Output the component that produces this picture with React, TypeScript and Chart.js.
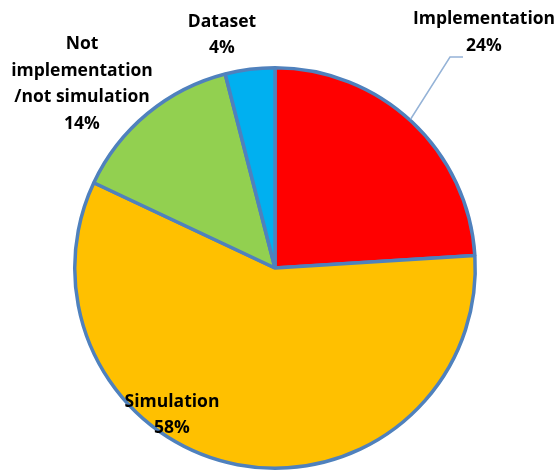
import React, { useEffect, useRef } from "react";
import { Chart, registerables } from "chart.js";

Chart.register(...registerables);

const categories = ["Implementation", "Simulation", "Not implementation\n/not simulation", "Dataset"];
const labelLines = [["Implementation"], ["Simulation"], ["Not", "implementation", "/not simulation"], ["Dataset"]];
const shares = [24, 58, 14, 4];
const sliceColors = ["#FF0000", "#FFC000", "#92D050", "#00B0F0"];

// label block centre, as offsets from the pie centre (px)
const labelOffsets: [number, number][] = [
  [209, -235.5],
  [-103, 147],
  [-193, -184],
  [-53, -233],
];

const FONT = "bold 17.5px 'Open Sans', Lato, sans-serif";
const LINE_H = 26.5;

const labelPlugin = {
  id: "sliceLabels",
  afterDraw(chart: any) {
    const ctx = chart.ctx;
    const meta = chart.getDatasetMeta(0);
    const arcs = meta.data;
    if (!arcs.length) return;
    const cx = arcs[0].x;
    const cy = arcs[0].y;
    const r = arcs[0].outerRadius;
    ctx.save();
    // leader line for the first slice
    {
      const a = arcs[0];
      const mid = (a.startAngle + a.endAngle) / 2 - 0.015;
      const sx = cx + Math.cos(mid) * (r + 1);
      const sy = cy + Math.sin(mid) * (r + 1);
      const [ox, oy] = labelOffsets[0];
      const ex = cx + ox - 34;
      const ey = cy + oy + 24.5;
      ctx.strokeStyle = "#95B3D7";
      ctx.lineWidth = 1.5;
      ctx.beginPath();
      ctx.moveTo(sx, sy);
      ctx.lineTo(ex, ey);
      ctx.lineTo(ex + 13, ey);
      ctx.stroke();
    }
    ctx.fillStyle = "#000000";
    ctx.font = FONT;
    ctx.textAlign = "center";
    ctx.textBaseline = "middle";
    shares.forEach((v, i) => {
      const lines = [...labelLines[i], `${v}%`];
      const [ox, oy] = labelOffsets[i];
      const top = cy + oy - ((lines.length - 1) * LINE_H) / 2;
      lines.forEach((t, j) => ctx.fillText(t, cx + ox, top + j * LINE_H));
    });
    ctx.restore();
  },
};

export default function App() {
  const ref = useRef<HTMLCanvasElement | null>(null);
  useEffect(() => {
    if (!ref.current) return;
    const chart = new Chart(ref.current, {
      type: "pie",
      data: {
        labels: categories,
        datasets: [
          {
            data: shares,
            backgroundColor: sliceColors,
            borderColor: "#4F81BD",
            borderWidth: 3.5,
          },
        ],
      },
      options: {
        responsive: false,
        animation: false,
        layout: { padding: { top: 66, bottom: 2, left: 73, right: 83 } },
        plugins: {
          legend: { display: false },
          tooltip: { enabled: false },
        },
      },
      plugins: [labelPlugin],
    });
    return () => chart.destroy();
  }, []);
  return (
    <div style={{ position: "fixed", left: 0, top: 0, width: 560, height: 472, background: "#fff" }}>
      <canvas ref={ref} width={560} height={472} />
    </div>
  );
}
